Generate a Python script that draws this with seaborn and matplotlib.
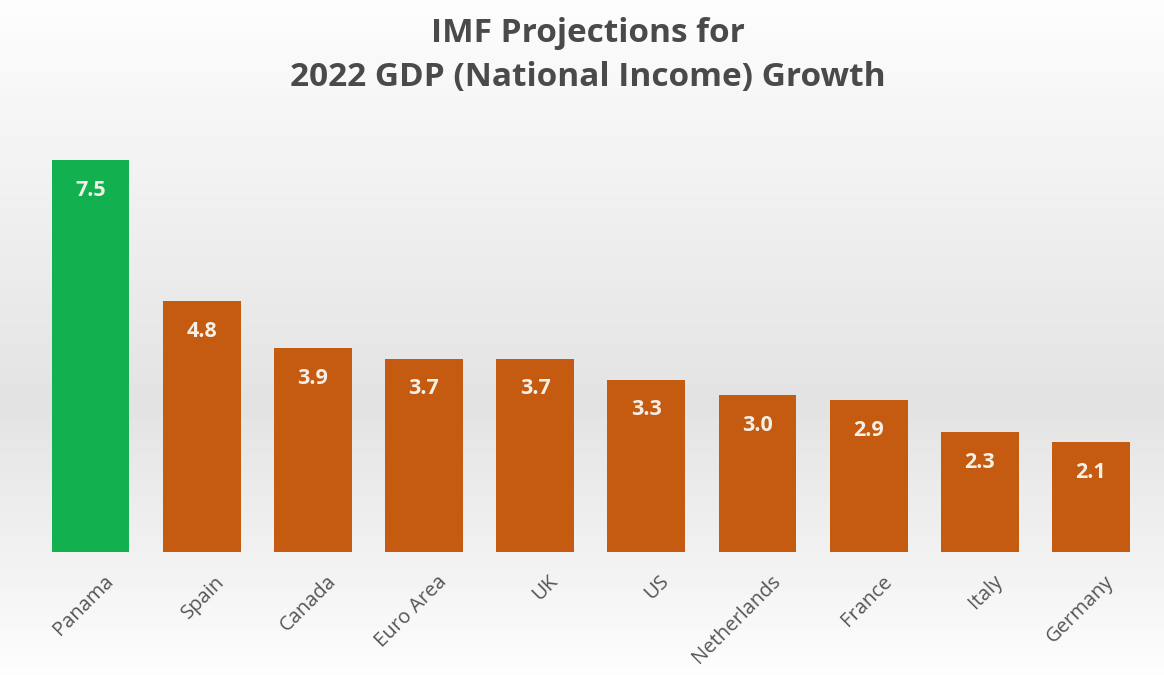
import numpy as np
import pandas as pd
import matplotlib
matplotlib.use("Agg")
import matplotlib.pyplot as plt
import matplotlib.transforms as mtransforms
import seaborn as sns

countries = ["Panama", "Spain", "Canada", "Euro Area", "UK", "US",
             "Netherlands", "France", "Italy", "Germany"]
growth = [7.5, 4.8, 3.9, 3.7, 3.7, 3.3, 3.0, 2.9, 2.3, 2.1]
bar_colors = ["#13b04f"] + ["#c55a11"] * 9
title = "IMF Projections for\n2022 GDP (National Income) Growth"

sns.set_theme(style="white")
plt.rcParams["font.family"] = ["Open Sans", "DejaVu Sans"]

df = pd.DataFrame({"country": countries, "growth": growth})

fig = plt.figure(figsize=(11.64, 6.75), dpi=100)

# background gradient
bg = fig.add_axes([0, 0, 1, 1], zorder=-10)
g = np.concatenate([np.linspace(0.99, 0.89, 60), np.linspace(0.89, 0.99, 40)])
bg.imshow(g.reshape(-1, 1), aspect="auto", cmap="gray", vmin=0, vmax=1,
          extent=[0, 1, 0, 1])
bg.axis("off")

ax = fig.add_axes([0.030, 0.182, 0.955, 0.62])
ax.patch.set_alpha(0)
sns.barplot(data=df, x="country", y="growth", hue="country",
            palette=bar_colors, width=0.7, legend=False, ax=ax,
            saturation=1)
for p in ax.patches:
    p.set_edgecolor("none")

ax.set_xlim(-0.5, 9.5)
ax.set_ylim(0, 8)
for i, v in enumerate(growth):
    ax.text(i, v - 0.58, f"{v:.1f}", ha="center", va="center",
            color="#f4f0e8", fontsize=15.5, fontweight="bold")

ax.set_xlabel("")
ax.set_ylabel("")
ax.set_yticks([])
ax.tick_params(axis="x", length=0, pad=14, labelsize=14.5, labelcolor="#555555")
offset = mtransforms.ScaledTranslation(0.13, 0, fig.dpi_scale_trans)
for lbl in ax.get_xticklabels():
    lbl.set_rotation(45)
    lbl.set_ha("right")
    lbl.set_rotation_mode("anchor")
    lbl.set_transform(lbl.get_transform() + offset)
for s in ax.spines.values():
    s.set_visible(False)

fig.text(0.505, 0.975, title, ha="center", va="top", fontsize=24,
         fontweight="bold", color="#4a4a4a", linespacing=1.45)

fig.savefig("out.png", dpi=100)
